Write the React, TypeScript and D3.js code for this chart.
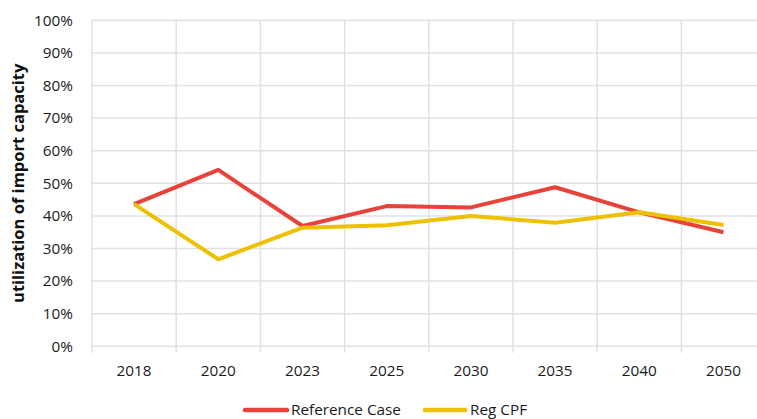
import { useEffect } from "react"
import * as d3 from "d3"

const years = ["2018", "2020", "2023", "2025", "2030", "2035", "2040", "2050"]
const referenceCase = [0.436, 0.541, 0.369, 0.43, 0.426, 0.488, 0.411, 0.35]
const regCpf = [0.436, 0.267, 0.364, 0.371, 0.4, 0.379, 0.411, 0.372]
const yTicks = [0, 0.1, 0.2, 0.3, 0.4, 0.5, 0.6, 0.7, 0.8, 0.9, 1]

const series = [
  { name: "Reference Case", values: referenceCase, color: "#E8433A" },
  { name: "Reg CPF", values: regCpf, color: "#EDC100" },
]

const W = 757
const H = 419
const margin = { top: 20.3, right: -8.6, bottom: 72.7, left: 92 }
const font = "'Open Sans', sans-serif"
const gridColor = "#DEE2E7"
const textColor = "#1a1a1a"
const fs = 15.3

export default function App() {
  useEffect(() => {
    document.body.style.margin = "0"
  }, [])

  const x = d3
    .scaleBand()
    .domain(years)
    .range([margin.left, W - margin.right])
  const y = d3
    .scaleLinear()
    .domain([0, 1])
    .range([H - margin.bottom, margin.top])

  const line = d3
    .line<number>()
    .x((_, i) => (x(years[i]) ?? 0) + x.bandwidth() / 2)
    .y((d) => y(d))

  const bounds = [...years.map((c) => x(c) ?? 0), W - margin.right]
  const bottom = y(0)

  return (
    <svg width={W} height={H} style={{ display: "block", background: "#fff" }}>
      {/* horizontal grid */}
      {yTicks.map((t) => (
        <line key={t} x1={margin.left} x2={W - margin.right} y1={y(t)} y2={y(t)} stroke={gridColor} strokeWidth={1.5} />
      ))}
      {/* vertical grid / category ticks */}
      {bounds.map((b, i) => (
        <line key={i} x1={b} x2={b} y1={margin.top} y2={bottom + 6.5} stroke={gridColor} strokeWidth={1.5} />
      ))}

      {/* y tick labels */}
      {yTicks.map((t) => (
        <text
          key={t}
          x={73}
          y={y(t)}
          dy="0.35em"
          textAnchor="end"
          fontFamily={font}
          fontSize={fs}
          fill={textColor}
        >
          {d3.format(".0%")(t)}
        </text>
      ))}

      {/* x tick labels */}
      {years.map((c) => (
        <text
          key={c}
          x={(x(c) ?? 0) + x.bandwidth() / 2}
          y={376}
          textAnchor="middle"
          fontFamily={font}
          fontSize={fs}
          fill={textColor}
        >
          {c}
        </text>
      ))}

      {/* y axis title */}
      <text
        transform={`translate(24,${(margin.top + bottom) / 2}) rotate(-90)`}
        textAnchor="middle"
        fontFamily={font}
        fontSize={16.5}
        fontWeight="bold"
        fill="#111"
      >
        utilization of import capacity
      </text>

      {/* series */}
      {series.map((s) => (
        <path key={s.name} d={line(s.values) ?? ""} fill="none" stroke={s.color} strokeWidth={4} strokeLinejoin="round" />
      ))}

      {/* legend */}
      <g transform="translate(245,410)">
        <line x1={0} x2={42} y1={0} y2={0} stroke={series[0].color} strokeWidth={4.5} strokeLinecap="round" />
        <text x={46} y={0} dy="0.35em" fontFamily={font} fontSize={fs} fill={textColor}>
          {series[0].name}
        </text>
        <line x1={180} x2={220} y1={0} y2={0} stroke={series[1].color} strokeWidth={4.5} strokeLinecap="round" />
        <text x={225} y={0} dy="0.35em" fontFamily={font} fontSize={fs} fill={textColor}>
          {series[1].name}
        </text>
      </g>
    </svg>
  )
}
